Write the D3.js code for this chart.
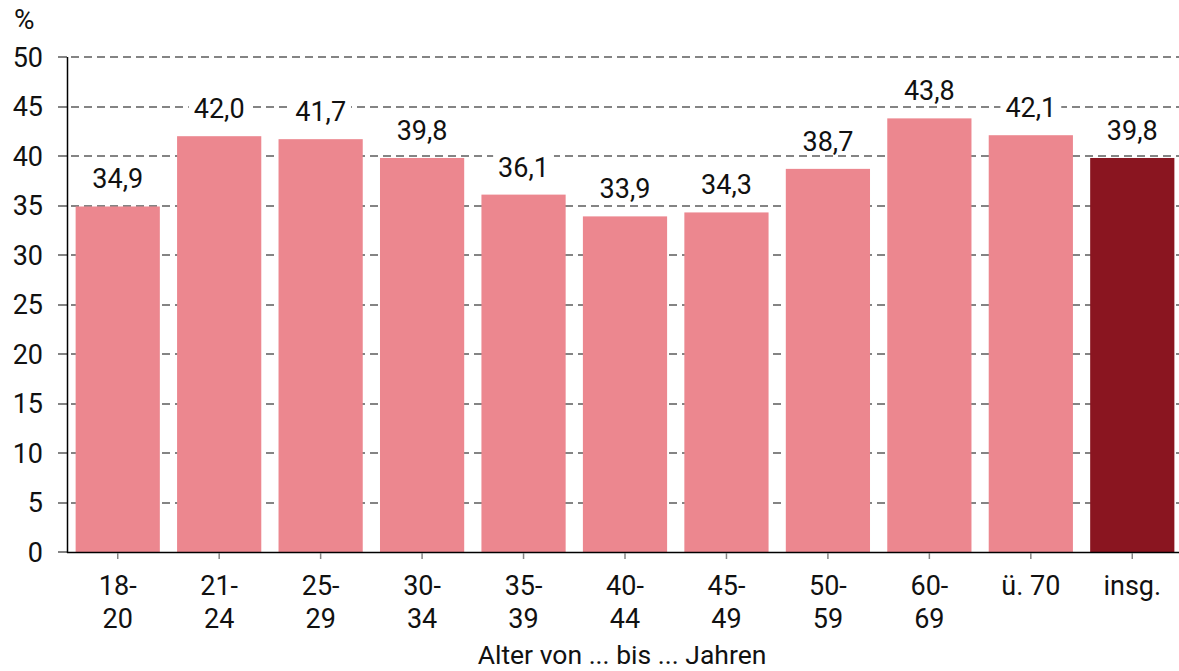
<!DOCTYPE html>
<html>
<head>
<meta charset="utf-8">
<script src="https://cdn.jsdelivr.net/npm/d3@7"></script>
<style>
  html, body { margin: 0; padding: 0; background: #fff; }
  svg text { font-family: Roboto, "Noto Sans", "Liberation Sans", sans-serif; fill: #111; }
</style>
</head>
<body>
<svg id="chart" width="1179" height="671"></svg>
<script>
// Age groups (two-line labels), values in percent
const categories = ["18-20", "21-24", "25-29", "30-34", "35-39", "40-44", "45-49", "50-59", "60-69", "ü. 70", "insg."];
const labelLines = [["18-", "20"], ["21-", "24"], ["25-", "29"], ["30-", "34"], ["35-", "39"], ["40-", "44"], ["45-", "49"], ["50-", "59"], ["60-", "69"], ["ü. 70"], ["insg."]];
const values = [34.9, 42.0, 41.7, 39.8, 36.1, 33.9, 34.3, 38.7, 43.8, 42.1, 39.8];
const yTicks = [0, 5, 10, 15, 20, 25, 30, 35, 40, 45, 50];
const unitLabel = "%";
const axisTitle = "Alter von ... bis ... Jahren";

const svg = d3.select("#chart");
const plotLeft = 67, plotRight = 1183, plotTop = 57, plotBottom = 552;
const fontSize = 27;
const gridColor = "#848484";
const fmt = v => v.toFixed(1).replace(".", ",");

const x = d3.scaleBand().domain(categories).range([plotLeft, plotRight]).paddingInner(0.17).paddingOuter(0.085);
const y = d3.scaleLinear().domain([0, 50]).range([plotBottom, plotTop]);

// dashed grid lines
svg.append("g").selectAll("line").data(yTicks.filter(t => t > 0)).join("line")
  .attr("x1", 58).attr("x2", 1179)
  .attr("y1", d => Math.round(y(d))).attr("y2", d => Math.round(y(d)))
  .attr("stroke", gridColor).attr("stroke-width", 2).attr("stroke-dasharray", "8,5");

// y tick marks and labels
const yAxis = svg.append("g");
yAxis.selectAll("line").data(yTicks).join("line")
  .attr("x1", 58).attr("x2", plotLeft)
  .attr("y1", d => Math.round(y(d))).attr("y2", d => Math.round(y(d)))
  .attr("stroke", gridColor).attr("stroke-width", 2);
yAxis.selectAll("text").data(yTicks).join("text")
  .attr("x", 43).attr("y", d => y(d)).attr("dy", "0.36em")
  .attr("text-anchor", "end").style("font-size", fontSize + "px")
  .text(d => d);
svg.append("text").attr("x", 14).attr("y", 29).style("font-size", "28px").text(unitLabel);

// bars
svg.append("g").selectAll("rect").data(values).join("rect")
  .attr("x", (d, i) => x(categories[i]))
  .attr("width", x.bandwidth())
  .attr("y", d => y(d))
  .attr("height", d => y(0) - y(d))
  .attr("fill", (d, i) => categories[i] === "insg." ? "#8a1520" : "#ec878f");

// value labels on a white backing so grid lines break around them
const vl = svg.append("g").selectAll("g").data(values).join("g")
  .attr("transform", (d, i) => `translate(${x(categories[i]) + x.bandwidth() / 2},${y(d) - 18})`);
vl.append("rect").attr("fill", "#fff");
vl.append("text").attr("text-anchor", "middle").style("font-size", fontSize + "px").text(fmt);
vl.each(function() {
  const g = d3.select(this);
  const b = g.select("text").node().getBBox();
  g.select("rect").attr("x", b.x - 5).attr("width", b.width + 10)
    .attr("y", -22).attr("height", 26);
});

// axis lines
svg.append("line").attr("x1", plotLeft + 0.5).attr("x2", plotLeft + 0.5).attr("y1", plotTop).attr("y2", plotBottom + 1)
  .attr("stroke", "#000").attr("stroke-width", 1.5);
svg.append("line").attr("x1", plotLeft).attr("x2", 1179).attr("y1", plotBottom + 0.5).attr("y2", plotBottom + 0.5)
  .attr("stroke", "#000").attr("stroke-width", 1.5);

// x ticks and labels (one text per line)
const xg = svg.append("g").selectAll("g").data(categories).join("g")
  .attr("transform", d => `translate(${x(d) + x.bandwidth() / 2},0)`);
xg.append("line").attr("y1", plotBottom + 1).attr("y2", plotBottom + 7)
  .attr("stroke", gridColor).attr("stroke-width", 1.5);
xg.each(function(d, i) {
  d3.select(this).selectAll("text").data(labelLines[i]).join("text")
    .attr("text-anchor", "middle").style("font-size", fontSize + "px")
    .attr("x", 0).attr("y", (line, k) => 595 + k * 33)
    .text(line => line);
});

svg.append("text").attr("x", (plotLeft + plotRight) / 2 - 3).attr("y", 664)
  .attr("text-anchor", "middle").style("font-size", "26.5px").text(axisTitle);
</script>
</body>
</html>
